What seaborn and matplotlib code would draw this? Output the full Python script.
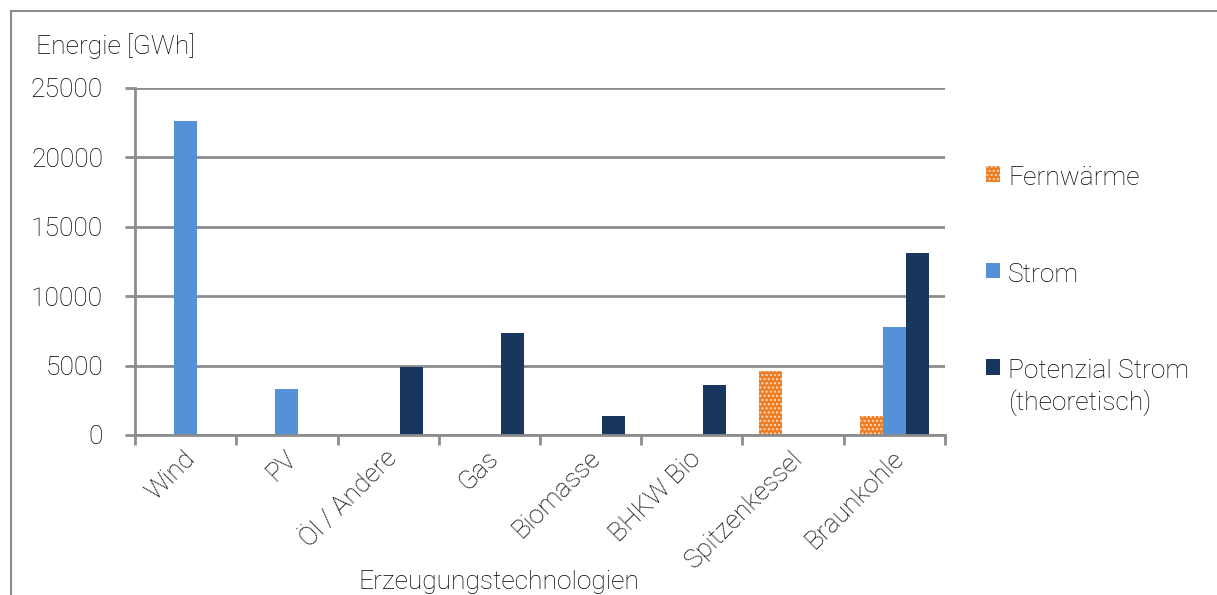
import numpy as np
import pandas as pd
import matplotlib
matplotlib.use("Agg")
import matplotlib.pyplot as plt
from matplotlib.patches import Rectangle, Patch
import seaborn as sns

# Generation technologies and energy per series [GWh]
categories = ["Wind", "PV", "Öl / Andere", "Gas", "Biomasse", "BHKW Bio",
              "Spitzenkessel", "Braunkohle"]
fernwaerme = [0, 0, 0, 0, 0, 0, 4600, 1350]
strom = [22600, 3300, 0, 0, 0, 0, 0, 7800]
potenzial = [0, 0, 4900, 7350, 1350, 3600, 0, 13100]
series_names = ["Fernwärme", "Strom", "Potenzial Strom\n(theoretisch)"]
y_ticks = [0, 5000, 10000, 15000, 20000, 25000]

colors = ["#EE7D22", "#5690D6", "#17375E"]
dot_color = "#FCD9BC"

df = pd.DataFrame({
    "Kategorie": categories * 3,
    "Serie": np.repeat(series_names, len(categories)),
    "Wert": fernwaerme + strom + potenzial,
})

sns.set_theme(style="white")
plt.rcParams["font.family"] = ["Roboto", "DejaVu Sans"]
plt.rcParams["font.weight"] = "light"
plt.rcParams["hatch.linewidth"] = 1.0

FS = 19
TXT = "#000000"

W, H = 1217, 595
fig = plt.figure(figsize=(W / 100, H / 100), dpi=100)
ax = fig.add_axes([135 / W, 1 - 435 / H, (945 - 135) / W, (435 - 88) / H])

sns.barplot(data=df, x="Kategorie", y="Wert", hue="Serie", order=categories,
            hue_order=series_names, palette=colors, width=0.68, dodge=True,
            saturation=1, ax=ax, legend=False, linewidth=0)

# dotted pattern on the district-heating bars
for bar in ax.containers[0]:
    bar.set_hatch("....")
    bar.set_edgecolor(dot_color)
    bar.set_linewidth(0)

grid_c = "#8C8C8C"
ax.set_ylim(0, 25000)
ax.set_xlim(-0.5, len(categories) - 0.5)
ax.set_yticks(y_ticks)
ax.set_yticklabels([str(v) for v in y_ticks], fontsize=FS, color=TXT)
ax.yaxis.grid(True, color=grid_c, linewidth=2)
ax.set_axisbelow(True)

ax.set_xticks(np.arange(len(categories)) - 0.03)
ax.set_xticklabels(categories, rotation=45, ha="right", rotation_mode="anchor",
                   fontsize=FS, color=TXT)
ax.set_xticks(np.arange(-0.5, len(categories), 1), minor=True)
ax.tick_params(axis="x", which="major", length=0, pad=8)
ax.tick_params(axis="x", which="minor", length=7, width=2, color=grid_c,
               direction="out", bottom=True)
ax.tick_params(axis="y", length=7, width=2, color=grid_c, direction="out",
               left=True, pad=16)
ax.set_xlabel("")
ax.set_ylabel("")

for side in ["top", "right"]:
    ax.spines[side].set_visible(False)
for side in ["left", "bottom"]:
    ax.spines[side].set_color(grid_c)
    ax.spines[side].set_linewidth(2)

# axis titles
fig.text(36 / W, 1 - 46 / H, "Energie [GWh]", fontsize=FS, va="center",
         ha="left", color=TXT)
fig.text(499 / W, 1 - 570 / H, "Erzeugungstechnologien", fontsize=FS,
         va="top", ha="center", color=TXT)

# legend
handles = []
for i, (name, c) in enumerate(zip(series_names, colors)):
    p = Patch(facecolor=c, edgecolor=dot_color if i == 0 else c,
              hatch="...." if i == 0 else None, linewidth=0)
    handles.append(p)
leg = fig.legend(handles, series_names, loc="upper left",
                 bbox_to_anchor=(986 / W, 1 - 166 / H), frameon=False,
                 fontsize=FS, handlelength=0.53, handleheight=0.53,
                 handletextpad=0.3, labelspacing=2.75, borderpad=0,
                 borderaxespad=0)
for t in leg.get_texts():
    t.set_linespacing(1.3)
    t.set_color(TXT)
# keep the marker of the two-line entry level with its first line
items = leg._legend_handle_box.get_children()[0].get_children()
for it in items:
    it.align = "top"

# outer frame
fig.patches.append(Rectangle((11 / W, -0.1), 1.2, 1 - 11 / H + 0.1,
                             transform=fig.transFigure, fill=False,
                             edgecolor="#8C8C8C", linewidth=1.5))

fig.savefig("out.png", dpi=100)
